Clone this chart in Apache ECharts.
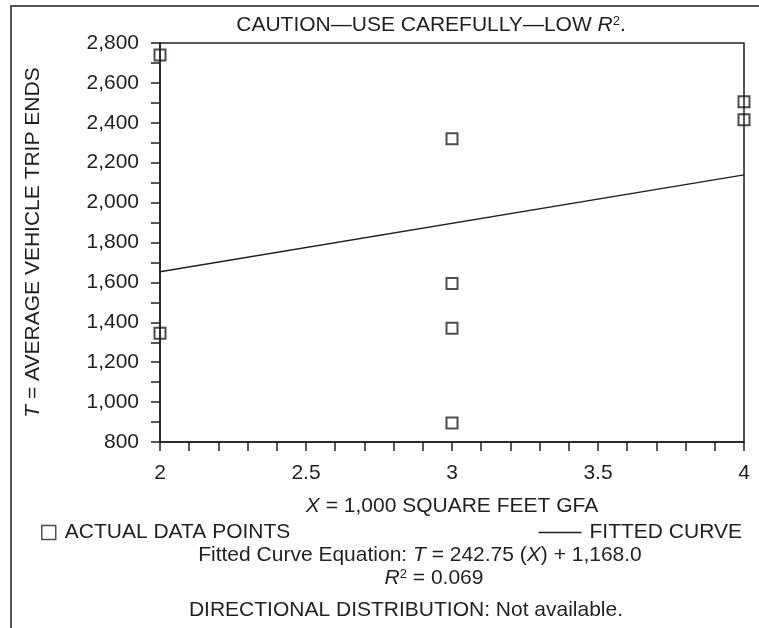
<!DOCTYPE html>
<html>
<head>
<meta charset="utf-8">
<script src="https://cdn.jsdelivr.net/npm/echarts@6/dist/echarts.min.js"></script>
<style>html,body{margin:0;padding:0;background:#fff;}#c{width:759px;height:628px;}</style>
</head>
<body>
<div id="c"></div>
<script>
// Data
const pointsX = [2, 2, 3, 3, 3, 3, 4, 4];
const pointsT = [2740, 1345, 2320, 1595, 1370, 895, 2505, 2415];
const fitX = [2, 4];
const fitT = [1653.5, 2139.0];
const xTicks = [2, 2.5, 3, 3.5, 4];
const yTicks = [800, 1000, 1200, 1400, 1600, 1800, 2000, 2200, 2400, 2600, 2800];

const INK = '#231f20';
const FONT = 'Liberation Sans, Arial, sans-serif';
const FS = 21;

const chart = echarts.init(document.getElementById('c'), null, {renderer: 'canvas'});
const option = {
  animation: false,
  backgroundColor: '#fff',
  textStyle: {fontFamily: FONT, color: INK},
  grid: {left: 160, right: 15, top: 43, bottom: 186, show: true, borderColor: INK, borderWidth: 1.5, backgroundColor: 'transparent'},
  xAxis: {
    type: 'value', min: xTicks[0], max: xTicks[xTicks.length - 1], interval: 0.5,
    axisLine: {lineStyle: {color: INK, width: 1.5}},
    axisTick: {length: 9, lineStyle: {color: INK, width: 1.5}},
    minorTick: {show: true, splitNumber: 5, length: 9, lineStyle: {color: INK, width: 1.5}},
    splitLine: {show: false},
    axisLabel: {fontSize: FS, color: INK, fontFamily: FONT, margin: 21},
    name: '{i|X} = 1,000 SQUARE FEET GFA',
    nameLocation: 'middle', nameGap: 54,
    nameTextStyle: {fontSize: FS, color: INK, fontFamily: FONT, rich: {i: {fontStyle: 'italic', fontSize: FS, color: INK, fontFamily: FONT}}}
  },
  yAxis: {
    type: 'value', min: yTicks[0], max: yTicks[yTicks.length - 1], interval: 200,
    axisLine: {lineStyle: {color: INK, width: 1.5}},
    axisTick: {length: 9, lineStyle: {color: INK, width: 1.5}},
    minorTick: {show: true, splitNumber: 2, length: 9, lineStyle: {color: INK, width: 1.5}},
    splitLine: {show: false},
    axisLabel: {fontSize: FS, color: INK, fontFamily: FONT, margin: 21,
      formatter: v => v.toLocaleString('en-US')},
    name: '{i|T} = AVERAGE VEHICLE TRIP ENDS',
    nameLocation: 'middle', nameGap: 116, nameRotate: 90,
    nameTextStyle: {fontSize: FS, color: INK, fontFamily: FONT, rich: {i: {fontStyle: 'italic', fontSize: FS, color: INK, fontFamily: FONT}}}
  },
  legend: [
    {
      left: 36, top: 517, itemWidth: 14, itemHeight: 14, itemGap: 0,
      textStyle: {fontSize: FS, color: INK, fontFamily: FONT, padding: [0, 0, 0, 4]},
      data: [{name: 'ACTUAL DATA POINTS', icon: 'rect', itemStyle: {color: 'rgba(0,0,0,0)', borderColor: INK, borderWidth: 1.5}}]
    },
    {
      right: 12, top: 517, itemWidth: 43, itemHeight: 1.5, itemGap: 0,
      textStyle: {fontSize: FS, color: INK, fontFamily: FONT, padding: [0, 0, 0, 3]},
      data: [{name: 'FITTED CURVE', icon: 'rect', itemStyle: {color: INK, borderWidth: 0}}]
    }
  ],
  series: [
    {
      name: 'ACTUAL DATA POINTS', type: 'scatter', clip: false,
      symbol: 'rect', symbolSize: 11,
      itemStyle: {color: 'rgba(0,0,0,0)', borderColor: INK, borderWidth: 2},
      data: pointsX.map((x, i) => [x, pointsT[i]]), z: 5
    },
    {
      name: 'FITTED CURVE', type: 'line', symbol: 'none',
      lineStyle: {color: INK, width: 1.5}, itemStyle: {color: INK},
      data: fitX.map((x, i) => [x, fitT[i]]), z: 4
    }
  ],
  graphic: [
    {type: 'rect', shape: {x: 11, y: 6, width: 800, height: 700}, style: {fill: 'none', stroke: INK, lineWidth: 1.5}, silent: true},
    {type: 'text', x: 431, y: 25, style: {
      text: 'CAUTION—USE CAREFULLY—LOW {i|R}{sup|2}.', align: 'center', verticalAlign: 'middle',
      fontSize: FS, fontFamily: FONT, fill: INK,
      rich: {i: {fontStyle: 'italic', fontSize: FS, fontFamily: FONT}, sup: {fontSize: 13, fontFamily: FONT, verticalAlign: 'top', padding: [0, 0, 8, 0]}}
    }},
    {type: 'text', x: 420, y: 555, style: {
      text: 'Fitted Curve Equation: {i|T} = 242.75 ({i|X}) + 1,168.0', align: 'center', verticalAlign: 'middle',
      fontSize: FS, fontFamily: FONT, fill: INK,
      rich: {i: {fontStyle: 'italic', fontSize: FS, fontFamily: FONT}}
    }},
    {type: 'text', x: 434, y: 578, style: {
      text: '{i|R}{sup|2} = 0.069', align: 'center', verticalAlign: 'middle',
      fontSize: FS, fontFamily: FONT, fill: INK,
      rich: {i: {fontStyle: 'italic', fontSize: FS, fontFamily: FONT}, sup: {fontSize: 13, fontFamily: FONT, verticalAlign: 'top', padding: [0, 0, 8, 0]}}
    }},
    {type: 'text', x: 406, y: 610, style: {
      text: 'DIRECTIONAL DISTRIBUTION: Not available.', align: 'center', verticalAlign: 'middle',
      fontSize: FS, fontFamily: FONT, fill: INK
    }}
  ]
};
chart.setOption(option);
</script>
</body>
</html>
